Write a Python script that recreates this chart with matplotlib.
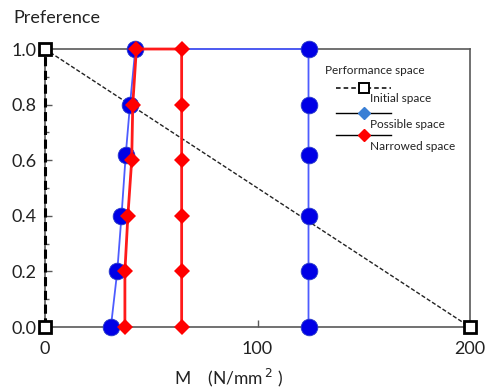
import matplotlib
matplotlib.use("Agg")
import matplotlib.pyplot as plt
from matplotlib.lines import Line2D

plt.rcParams['font.family'] = ['Lato', 'DejaVu Sans']

# Initial space: corners of the performance space
init_x = [0, 0, 200]
init_y = [0.0, 1.0, 0.0]

# Possible space (left edge, top, right edge)
poss_x = [31, 34, 36, 38, 40, 42.5, 124, 124, 124, 124, 124, 124]
poss_y = [0.0, 0.2, 0.4, 0.62, 0.8, 1.0, 1.0, 0.8, 0.62, 0.4, 0.2, 0.0]

# Narrowed space (left edge, top, right edge)
narr_x = [37.6, 37.6, 39, 40.8, 41.3, 43, 64.3, 64.3, 64.3, 64.3, 64.3, 64.3]
narr_y = [0.0, 0.2, 0.4, 0.6, 0.8, 1.0, 1.0, 0.8, 0.6, 0.4, 0.2, 0.0]

x_ticks = [0, 100, 200]
y_ticks = [0.0, 0.2, 0.4, 0.6, 0.8, 1.0]

fig = plt.figure(figsize=(4.87, 3.90), dpi=100)
ax = fig.add_axes([0.0924, 0.1615, 0.8727, 0.7128])

gray = '#595959'
for s in ax.spines.values():
    s.set_color(gray)
    s.set_linewidth(1.2)

# Initial space line
ax.plot([init_x[0], init_x[1]], [init_y[0], init_y[1]], color='black', lw=2.2,
        ls=(0, (3, 1.5)), zorder=3, clip_on=False)
ax.plot([init_x[1], init_x[2]], [init_y[1], init_y[2]], color='#222222', lw=1.0,
        ls=(0, (3, 1.5)), zorder=3, clip_on=False)

# Possible space
ax.plot(poss_x, poss_y, color='#4d5cff', lw=1.3, zorder=4, clip_on=False)
ax.plot(poss_x, poss_y, ls='none', marker='o', ms=12, color='#0000e6',
        markeredgecolor='#2a3cc8', markeredgewidth=0.6, zorder=5, clip_on=False)

# Narrowed space
ax.plot(narr_x, narr_y, color='#ff1a1a', lw=2.0, zorder=6, clip_on=False)
ax.plot(narr_x, narr_y, ls='none', marker='D', ms=8, color='#ff0000',
        markeredgewidth=0, zorder=7, clip_on=False)

# Square markers of the initial space
ax.plot(init_x, init_y, ls='none', marker='s', ms=9, markerfacecolor='white',
        markeredgecolor='black', markeredgewidth=2, zorder=8, clip_on=False)

ax.set_xlim(0, 200)
ax.set_ylim(0, 1.0)
ax.set_xticks(x_ticks)
ax.set_xticklabels([str(v) for v in x_ticks])
ax.set_yticks(y_ticks)
ax.set_yticklabels([f"{v:.1f}" for v in y_ticks])
ax.set_yticks([0.1, 0.3, 0.5, 0.7, 0.9], minor=True)
ax.tick_params(axis='both', which='major', direction='in', length=5, width=1,
               color=gray, labelsize=13, labelcolor='#222222', pad=6)
ax.tick_params(axis='x', which='major', pad=10)
ax.tick_params(axis='y', which='minor', direction='in', length=3, width=1, color=gray)

fig.text(0.028, 0.955, 'Preference', fontsize=13, color='#222222', va='center')
fig.text(0.47, 0.03, r'M    (N/mm$^{\,2}$ )', fontsize=12.5, color='#222222',
         ha='center', va='center', math_fontfamily='dejavusans')

# Legend drawn inside the frame
fig.text(325 / 487, 1 - 71 / 390, 'Performance space', fontsize=8.5, color='#222222',
         va='center')
entries = [
    (88, 'Initial space', dict(color='black', lw=1.1, ls=(0, (3, 2))),
     dict(marker='s', ms=6.5, mfc='white', mec='black', mew=1.4)),
    (113, 'Possible space', dict(color='black', lw=1.0, ls='-'),
     dict(marker='D', ms=6, mfc='#3a7fd5', mec='#3a7fd5')),
    (135, 'Narrowed space', dict(color='black', lw=1.0, ls='-'),
     dict(marker='D', ms=6, mfc='#ff0000', mec='#ff0000')),
]
for ypx, label, lstyle, mstyle in entries:
    yf = 1 - ypx / 390
    fig.add_artist(Line2D([336 / 487, 391 / 487], [yf, yf], transform=fig.transFigure,
                          **lstyle))
    fig.add_artist(Line2D([364 / 487], [yf], transform=fig.transFigure,
                          ls='none', **mstyle))
    fig.text(370 / 487, 1 - (ypx + 11) / 390, label, fontsize=8.5, color='#222222',
             va='center')

fig.savefig('out.png', dpi=100)
